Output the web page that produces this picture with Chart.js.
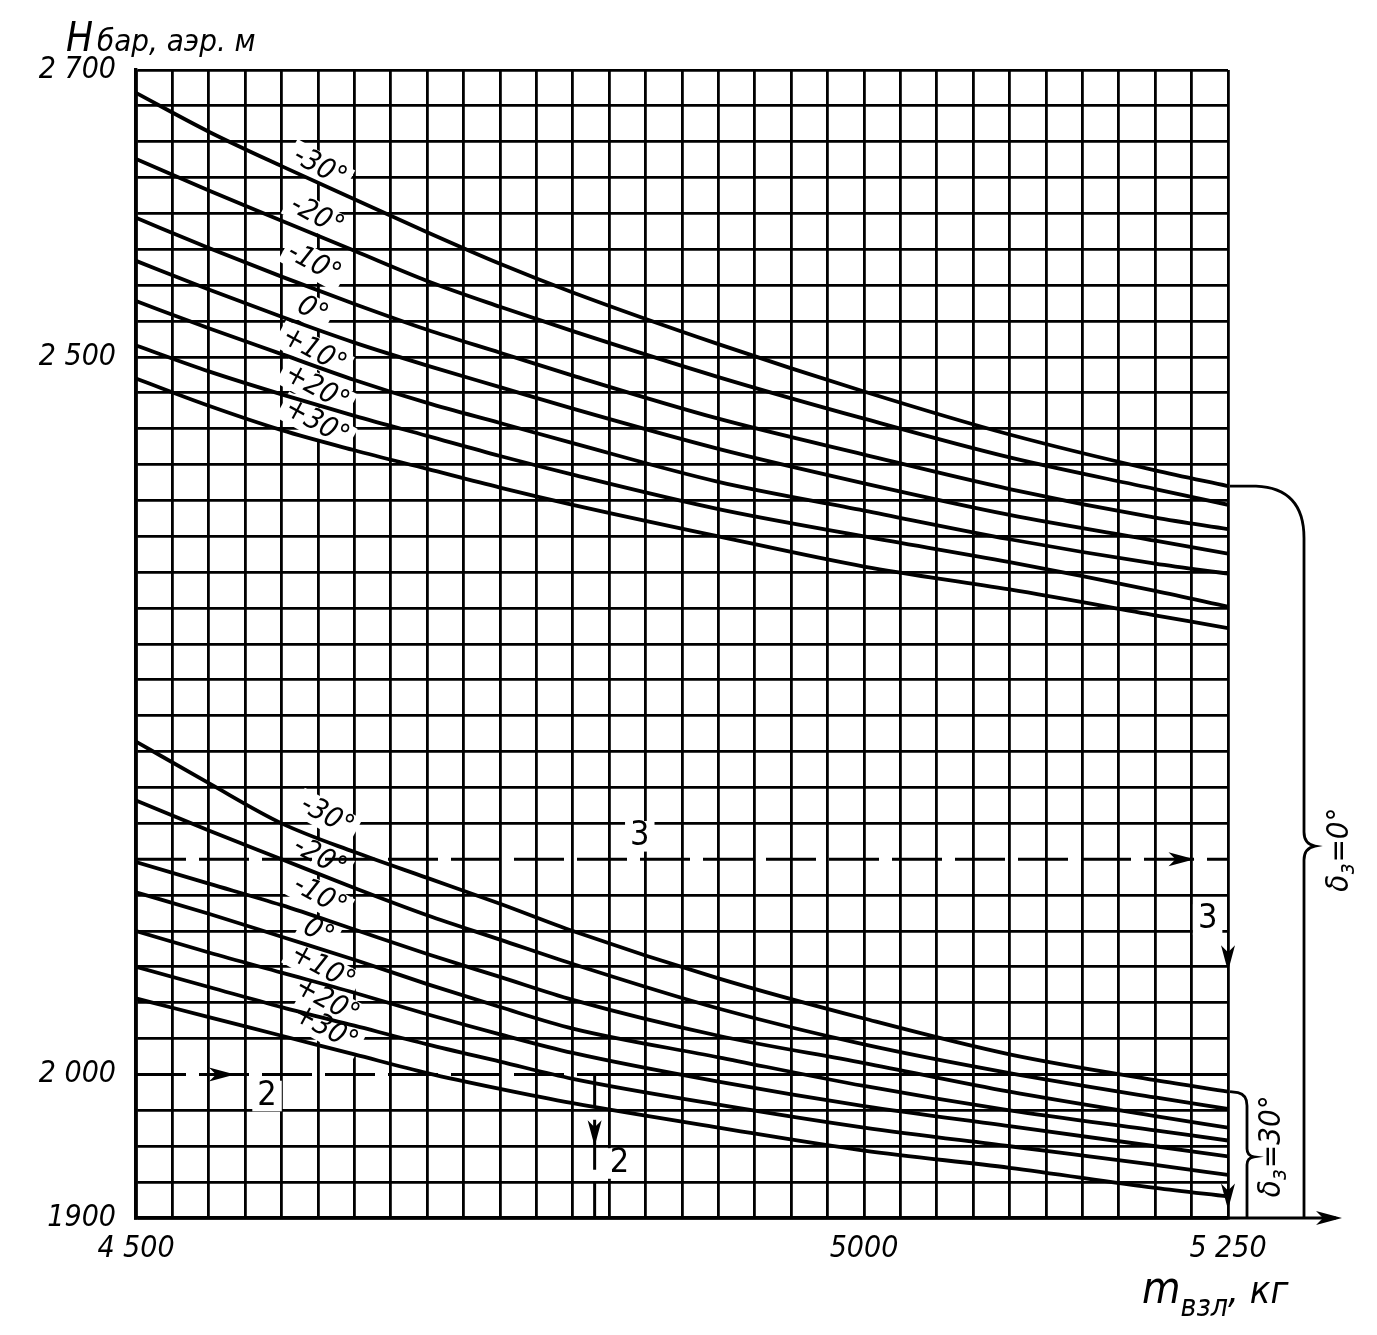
<!DOCTYPE html>
<html>
<head>
<meta charset="utf-8">
<script src="https://cdn.jsdelivr.net/npm/chart.js@4.4.1/dist/chart.umd.min.js"></script>
<style>
  html, body { margin: 0; padding: 0; background: #fff; }
  canvas { display: block; }
</style>
</head>
<body>
<canvas id="nomo" width="1377" height="1335"></canvas>
<script>
// взлётная масса, кг
const massKg = [4500, 4550, 4600, 4650, 4700, 4750, 4800, 4900, 5000, 5100, 5200, 5250];
const tempLabels = ['-30°', '-20°', '-10°', '0°', '+10°', '+20°', '+30°'];

// δз = 0°
const flap0M30 = [2684, 2657, 2633, 2610, 2587, 2565, 2545, 2509, 2476, 2446, 2421, 2410];
const flap0M20 = [2638, 2616, 2595, 2574, 2553, 2535, 2518, 2486, 2457, 2430, 2408, 2397];
const flap0M10 = [2597, 2576, 2556, 2537, 2519, 2503, 2487, 2457, 2432, 2408, 2388, 2380];
const flap0Z   = [2567, 2547, 2528, 2510, 2494, 2479, 2464, 2436, 2412, 2390, 2372, 2363];
const flap0P10 = [2539, 2520, 2502, 2484, 2468, 2454, 2440, 2413, 2393, 2373, 2356, 2349];
const flap0P20 = [2508, 2490, 2474, 2459, 2445, 2431, 2418, 2394, 2375, 2357, 2337, 2326];
const flap0P30 = [2485, 2466, 2449, 2435, 2422, 2409, 2397, 2375, 2354, 2338, 2320, 2311];

// δз = 30°
const flap30M30 = [2232, 2203, 2175, 2155, 2137, 2119, 2100, 2067, 2039, 2014, 1996, 1988];
const flap30M20 = [2191, 2170, 2150, 2130, 2111, 2094, 2077, 2046, 2021, 2001, 1984, 1976];
const flap30M10 = [2148, 2133, 2118, 2101, 2084, 2068, 2052, 2027, 2008, 1988, 1971, 1963];
const flap30Z   = [2127, 2112, 2096, 2080, 2063, 2047, 2032, 2012, 1992, 1975, 1961, 1954];
const flap30P10 = [2100, 2085, 2071, 2057, 2042, 2028, 2015, 1995, 1978, 1964, 1950, 1943];
const flap30P20 = [2075, 2061, 2047, 2034, 2021, 2009, 1997, 1979, 1963, 1950, 1937, 1930];
const flap30P30 = [2053, 2040, 2027, 2014, 2001, 1990, 1980, 1963, 1947, 1935, 1921, 1915];

// пунктирные ключи 3 и 2
const key3Mass = [4500, 5250];
const key3H    = [2150, 2150];
const key2Mass = [4500, 4815, 4815];
const key2H    = [2000, 2000, 1900];
// остаток линии сетки 2000 правее ключа 2
const grid2000Mass = [4815, 5250];
const grid2000H    = [2000, 2000];

// подписи осей
const xTickText = { 4500: '4 500', 5000: '5000', 5250: '5 250' };
const yTickText = { 2700: '2 700', 2500: '2 500', 2000: '2 000', 1900: '1900' };

// где стоят подписи температур (масса, высота)
const upperLabelAt = [[4626, 2632], [4624, 2598], [4622, 2565], [4621, 2532], [4622, 2504], [4624, 2478], [4624, 2454]];
const lowerLabelAt = [[4631, 2180], [4626, 2151], [4626, 2124], [4625, 2099], [4628, 2074], [4631, 2051], [4630, 2032]];

const FONT = "'Liberation Sans Narrow','DejaVu Sans Condensed','Liberation Sans',sans-serif";
const GRID_W = 2.8;
const upperCurves = [flap0M30, flap0M20, flap0M10, flap0Z, flap0P10, flap0P20, flap0P30];
const lowerCurves = [flap30M30, flap30M20, flap30M10, flap30Z, flap30P10, flap30P20, flap30P30];

function curve(vals) {
  return {
    data: massKg.map((m, i) => ({ x: m, y: vals[i] })),
    borderColor: '#000',
    borderWidth: 3.8,
    pointRadius: 0,
    fill: false,
    tension: 0.4,
    cubicInterpolationMode: 'monotone'
  };
}
function straight(xs, ys, dash, w) {
  return {
    data: xs.map((m, i) => ({ x: m, y: ys[i] })),
    borderColor: '#000',
    borderWidth: w,
    borderDash: dash,
    pointRadius: 0,
    fill: false,
    tension: 0
  };
}

function rotLabel(ctx, text, px, py, ang, size) {
  ctx.save();
  ctx.translate(px, py);
  ctx.rotate(ang);
  ctx.font = 'italic ' + size + 'px ' + FONT;
  const w = ctx.measureText(text).width;
  ctx.fillStyle = '#fff';
  ctx.fillRect(-w / 2 - 5, -size * 0.5, w + 10, size);
  ctx.fillStyle = '#000';
  ctx.textAlign = 'center';
  ctx.textBaseline = 'middle';
  ctx.fillText(text, 0, 0);
  ctx.restore();
}

function plainLabel(ctx, text, px, py, size) {
  ctx.save();
  ctx.font = size + 'px ' + FONT;
  const w = ctx.measureText(text).width;
  ctx.fillStyle = '#fff';
  ctx.fillRect(px - w / 2 - 5, py - size * 0.45, w + 10, size * 0.9);
  ctx.fillStyle = '#000';
  ctx.textAlign = 'center';
  ctx.textBaseline = 'middle';
  ctx.fillText(text, px, py);
  ctx.restore();
}

function arrow(ctx, px, py, dir) {
  // dir: 'r' или 'd'
  ctx.save();
  ctx.translate(px, py);
  if (dir === 'd') ctx.rotate(Math.PI / 2);
  ctx.beginPath();
  ctx.moveTo(0, 0);
  ctx.lineTo(-26, -7);
  ctx.lineTo(-19, 0);
  ctx.lineTo(-26, 7);
  ctx.closePath();
  ctx.fillStyle = '#000';
  ctx.fill();
  ctx.restore();
}

// δз с индексом, повернутая на -90°
function flapLabel(ctx, px, py, value) {
  ctx.save();
  ctx.translate(px, py);
  ctx.rotate(-Math.PI / 2);
  ctx.fillStyle = '#000';
  ctx.textBaseline = 'alphabetic';
  const big = 'italic 31px ' + FONT, small = 'italic 23px ' + FONT;
  ctx.font = big;  const w1 = ctx.measureText('δ').width;
  ctx.font = small; const w2 = ctx.measureText('з').width;
  ctx.font = big;  const w3 = ctx.measureText('=' + value + '°').width;
  let x0 = -(w1 + w2 + w3) / 2;
  ctx.font = big;  ctx.fillText('δ', x0, 10);
  ctx.font = small; ctx.fillText('з', x0 + w1, 16);
  ctx.font = big;  ctx.fillText('=' + value + '°', x0 + w1 + w2 + 1, 10);
  ctx.restore();
}

const decor = {
  id: 'decor',
  beforeDatasetsDraw(chart) {
    const { ctx, scales: { x, y } } = chart;
    const ang = 0.5;
    upperLabelAt.forEach((p, i) => rotLabel(ctx, tempLabels[i], x.getPixelForValue(p[0]), y.getPixelForValue(p[1]), ang, 29));
    lowerLabelAt.forEach((p, i) => rotLabel(ctx, tempLabels[i], x.getPixelForValue(p[0]), y.getPixelForValue(p[1]), ang, 29));
    plainLabel(ctx, '3', x.getPixelForValue(4846), y.getPixelForValue(2166), 34);
    plainLabel(ctx, '3', x.getPixelForValue(5236), y.getPixelForValue(2108), 34);
    plainLabel(ctx, '2', x.getPixelForValue(4590), y.getPixelForValue(1985), 34);
    plainLabel(ctx, '2', x.getPixelForValue(4832), y.getPixelForValue(1938), 34);
  },
  afterDatasetsDraw(chart) {
    const { ctx, chartArea: a, scales: { x, y } } = chart;
    const R = a.right, B = a.bottom;
    ctx.save();
    ctx.strokeStyle = '#000';
    ctx.lineWidth = 2.8;

    // стрелки на ключах
    arrow(ctx, x.getPixelForValue(5227), y.getPixelForValue(2150), 'r');
    arrow(ctx, x.getPixelForValue(4568), y.getPixelForValue(2000), 'r');
    arrow(ctx, x.getPixelForValue(4815), y.getPixelForValue(1950), 'd');
    arrow(ctx, R, y.getPixelForValue(2072), 'd');
    arrow(ctx, R, y.getPixelForValue(1906), 'd');

    // продолжение оси массы
    ctx.beginPath();
    ctx.moveTo(R, B);
    ctx.lineTo(R + 108, B);
    ctx.stroke();
    arrow(ctx, R + 114, B, 'r');

    // фигурная скобка δз = 0°
    const y0 = y.getPixelForValue(flap0M30[flap0M30.length - 1]);
    const t0 = (y0 + B) / 2 - 6;
    const bx = R + 76;
    ctx.beginPath();
    ctx.moveTo(R + 2, y0);
    ctx.lineTo(R + 28, y0);
    ctx.quadraticCurveTo(bx, y0 + 2, bx, y0 + 52);
    ctx.lineTo(bx, t0 - 14);
    ctx.quadraticCurveTo(bx, t0 - 2, bx + 11, t0);
    ctx.quadraticCurveTo(bx, t0 + 2, bx, t0 + 14);
    ctx.lineTo(bx, B);
    ctx.stroke();

    // фигурная скобка δз = 30°
    const y1 = y.getPixelForValue(flap30M30[flap30M30.length - 1]);
    const t1 = (y1 + B) / 2 + 2;
    const cx = R + 19;
    ctx.beginPath();
    ctx.moveTo(R + 2, y1);
    ctx.lineTo(R + 10, y1 + 1);
    ctx.quadraticCurveTo(cx, y1 + 3, cx, y1 + 14);
    ctx.lineTo(cx, t1 - 8);
    ctx.quadraticCurveTo(cx, t1 - 1, cx + 7, t1);
    ctx.quadraticCurveTo(cx, t1 + 1, cx, t1 + 8);
    ctx.lineTo(cx, B);
    ctx.stroke();
    ctx.restore();

    flapLabel(ctx, R + 110, (y0 + B) / 2 - 2, '0');
    flapLabel(ctx, R + 42, t1 - 10, '30');

    // заголовок оси высоты
    ctx.save();
    ctx.fillStyle = '#000';
    ctx.textBaseline = 'alphabetic';
    ctx.font = 'italic 40px ' + FONT;
    ctx.fillText('Н', 66, 51);
    const wH = ctx.measureText('Н').width;
    ctx.font = 'italic 31px ' + FONT;
    ctx.fillText('бар, аэр. м', 66 + wH + 4, 51);

    // заголовок оси массы
    ctx.font = 'italic 44px ' + FONT;
    ctx.fillText('m', 1142, 1303);
    const wm = ctx.measureText('m').width;
    ctx.font = 'italic 30px ' + FONT;
    ctx.fillText('взл', 1142 + wm, 1316);
    const wv = ctx.measureText('взл').width;
    ctx.font = 'italic 38px ' + FONT;
    ctx.fillText(', кг', 1142 + wm + wv, 1303);
    ctx.restore();
  }
};

const datasets = upperCurves.map(curve)
  .concat(lowerCurves.map(curve))
  .concat([
    straight(key3Mass, key3H, [50, 13], 3),
    straight(key2Mass, key2H, [50, 13], 3),
    straight(grid2000Mass, grid2000H, [], GRID_W)
  ]);

new Chart(document.getElementById('nomo'), {
  type: 'line',
  data: { datasets },
  plugins: [decor],
  options: {
    responsive: false,
    animation: false,
    devicePixelRatio: 1,
    layout: { padding: { left: 0, top: 70, right: 149, bottom: 0 } },
    plugins: { legend: { display: false }, tooltip: { enabled: false } },
    scales: {
      x: {
        type: 'linear',
        min: 4500,
        max: 5250,
        afterFit(s) { s.height = 117; },
        border: { display: true, color: '#000', width: 3.4 },
        grid: { color: '#000', lineWidth: GRID_W, drawTicks: false },
        ticks: {
          stepSize: 25,
          autoSkip: false,
          maxRotation: 0,
          padding: 13,
          color: '#000',
          font: { family: FONT, size: 30, style: 'italic' },
          callback: v => xTickText[v] || ''
        }
      },
      y: {
        type: 'linear',
        min: 1900,
        max: 2700,
        afterFit(s) { s.width = 136; },
        border: { display: true, color: '#000', width: 3.4 },
        grid: {
          // линии 2150 и 2000 заменены пунктиром ключей
          color: c => (c.tick && (c.tick.value === 2150 || c.tick.value === 2000)) ? 'rgba(0,0,0,0)' : '#000',
          lineWidth: GRID_W,
          drawTicks: false
        },
        ticks: {
          stepSize: 25,
          autoSkip: false,
          padding: 20,
          color: '#000',
          font: { family: FONT, size: 30, style: 'italic' },
          callback: v => yTickText[v] || ''
        }
      }
    }
  }
});
</script>
</body>
</html>
